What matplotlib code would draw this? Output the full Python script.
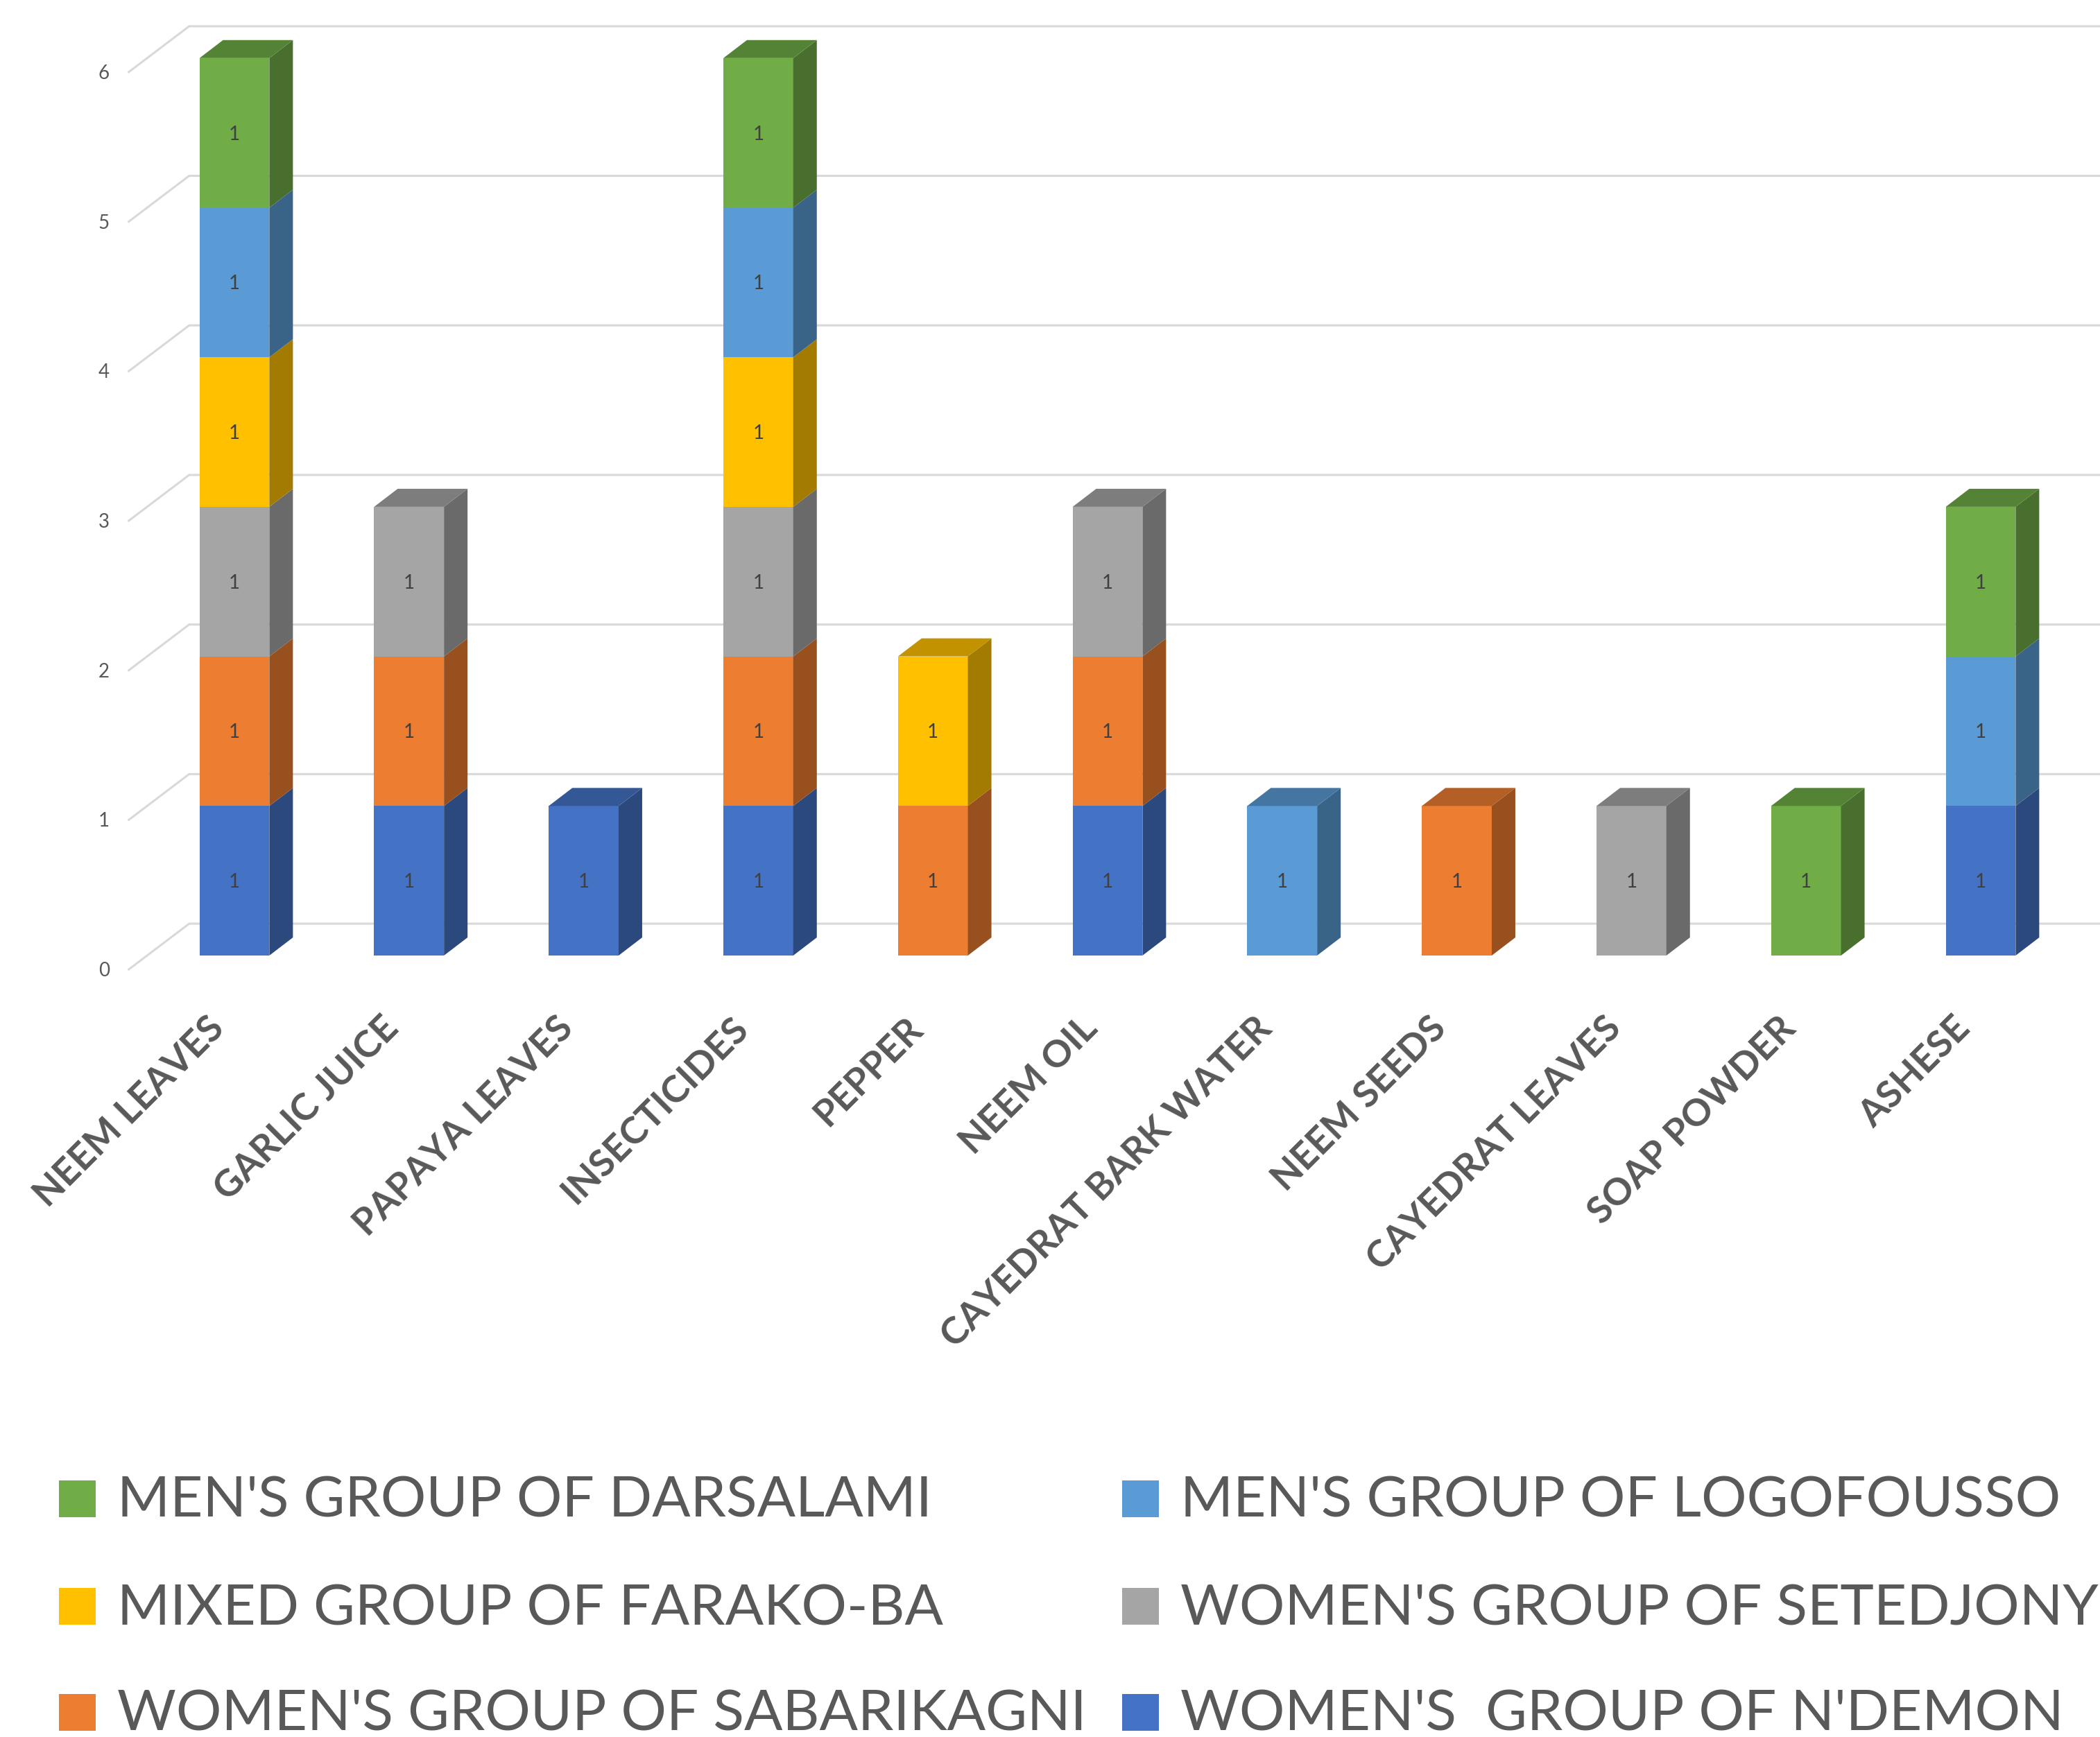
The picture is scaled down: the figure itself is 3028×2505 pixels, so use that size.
import matplotlib.pyplot as plt
from matplotlib.patches import Polygon, Rectangle
from matplotlib.colors import to_rgb
import numpy as np

categories = ["NEEM LEAVES", "GARLIC JUICE", "PAPAYA LEAVES", "INSECTICIDES", "PEPPER", "NEEM OIL",
              "CAYEDRAT BARK WATER", "NEEM SEEDS", "CAYEDRAT LEAVES", "SOAP POWDER", "ASHESE"]

# series, stacked from bottom to top
ndemon      = [1, 1, 1, 1, 0, 1, 0, 0, 0, 0, 1]
sabarikagni = [1, 1, 0, 1, 1, 1, 0, 1, 0, 0, 0]
setedjonyi  = [1, 1, 0, 1, 0, 1, 0, 0, 1, 0, 0]
farako_ba   = [1, 0, 0, 1, 1, 0, 0, 0, 0, 0, 0]
logofousso  = [1, 0, 0, 1, 0, 0, 1, 0, 0, 0, 1]
darsalami   = [1, 0, 0, 1, 0, 0, 0, 0, 0, 1, 1]

series_names = ["WOMEN'S  GROUP OF N'DEMON", "WOMEN'S GROUP OF SABARIKAGNI", "WOMEN'S GROUP OF SETEDJONYI",
                "MIXED GROUP OF FARAKO-BA", "MEN'S GROUP OF LOGOFOUSSO", "MEN'S GROUP OF DARSALAMI"]
series = [ndemon, sabarikagni, setedjonyi, farako_ba, logofousso, darsalami]
colors = ["#4472C4", "#ED7D31", "#A5A5A5", "#FFC000", "#5B9BD5", "#70AD47"]

yticks = [0, 1, 2, 3, 4, 5, 6]

plt.rcParams['font.family'] = ['Lato', 'DejaVu Sans']

W, H = 3028, 2505
fig = plt.figure(figsize=(W / 200, H / 200), dpi=200)
ax = fig.add_axes([0, 0, 1, 1])
ax.axis('off')

# pixel mapping: category spacing 251.8 px, 215.7 px per unit
x0_px, sx = 338, 251.8
y0_px, sy = 1378, 215.7
ax.set_xlim(-x0_px / sx, (W - x0_px) / sx)
ax.set_ylim((y0_px - H) / sy, y0_px / sy)

w = 0.40
bdx, bdy = 34 / sx, 26 / sy      # bar depth
wdx, wdy = 0.241, 0.213          # back wall offset
fdx, fdy = -0.105, -0.093        # floor front offset
half_digit = 10 / sy


def shade(c, f):
    return tuple(np.array(to_rgb(c)) * f)


# gridlines (floor diagonal + back wall)
for v in yticks:
    ax.plot([-0.5 + fdx, -0.5 + wdx, 12], [v + fdy, v + wdy, v + wdy],
            color='#d9d9d9', lw=1.1, zorder=0, solid_joinstyle='miter')
    ax.text(-0.5 + fdx - 0.11, v + fdy - half_digit, str(v), ha='right', va='baseline',
            fontsize=10, color='#595959')

x = np.arange(len(categories))
bottom = np.zeros(len(categories))
totals = np.sum(series, axis=0)
for vals, name, c in zip(series, series_names, colors):
    vals = np.array(vals, dtype=float)
    ax.bar(x, vals, bottom=bottom, width=w, color=c, edgecolor='none', zorder=2, label=name)
    for i in range(len(categories)):
        if vals[i] == 0:
            continue
        b, t = bottom[i], bottom[i] + vals[i]
        xr = i + w / 2
        ax.add_patch(Polygon([(xr, b), (xr + bdx, b + bdy), (xr + bdx, t + bdy), (xr, t)],
                             closed=True, facecolor=shade(c, 0.64), edgecolor='none', zorder=2))
        if t == totals[i]:
            ax.add_patch(Polygon([(i - w / 2, t), (i - w / 2 + bdx, t + bdy), (xr + bdx, t + bdy), (xr, t)],
                                 closed=True, facecolor=shade(c, 0.76), edgecolor='none', zorder=2))
        ax.text(i, (b + t) / 2 - half_digit, f"{int(vals[i])}", ha='center', va='baseline', fontsize=10,
                color='#404040', zorder=3)
    bottom += vals

for i, cat in enumerate(categories):
    ax.text(i - 0.16, -0.37, cat, rotation=45, rotation_mode='anchor', ha='right', va='top',
            fontsize=19.5, fontweight='bold', color='#595959')

# legend, laid out row by row like the original
order = [5, 4, 3, 2, 1, 0]
col_x = [85, 1618]
row_base = [2188, 2343, 2496]
msize = 53
for k, idx in enumerate(order):
    r, cidx = divmod(k, 2)
    mx, base = col_x[cidx], row_base[r]
    fig.add_artist(Rectangle((mx / W, 1 - base / H), msize / W, msize / H,
                             transform=fig.transFigure, facecolor=colors[idx], edgecolor='none'))
    fig.text((mx + 84) / W, 1 - base / H, series_names[idx], ha='left', va='baseline',
             fontsize=29.5, color='#595959')

fig.savefig('out.png', dpi=200)
